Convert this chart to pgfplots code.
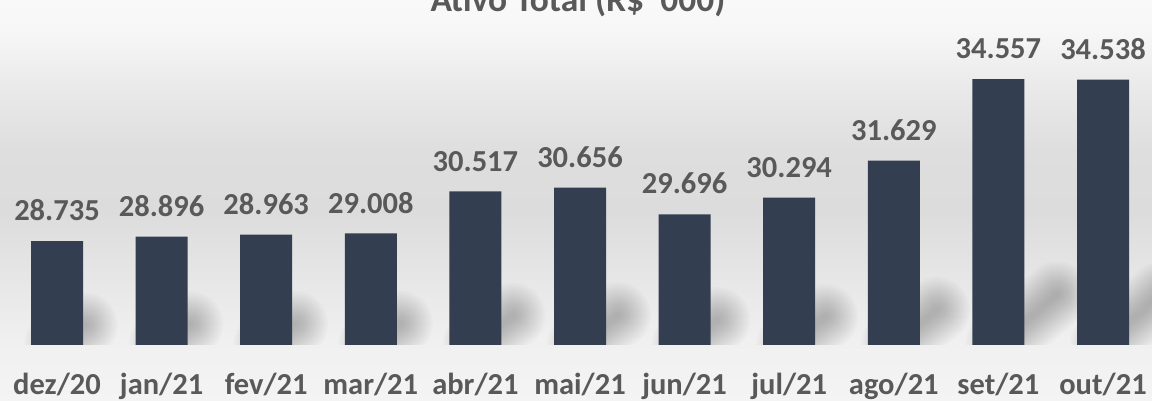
\documentclass[border=0pt]{standalone}
\usepackage{fontspec}
\setmainfont{Carlito}
\usepackage{pgfplots}
\pgfplotsset{compat=1.18}
\definecolor{barc}{HTML}{333F50}
\definecolor{txt}{HTML}{595959}
\definecolor{bgA}{HTML}{F4F4F4}
\definecolor{bgB}{HTML}{F0F0F0}
\definecolor{bgC}{HTML}{DCDCDC}
\definecolor{bgD}{HTML}{DEDEDE}
\definecolor{bgE}{HTML}{E9E9E9}
\definecolor{bgF}{HTML}{F7F7F7}
\definecolor{bgG}{HTML}{F9F9F9}
\pgfdeclareverticalshading{bgshade}{100bp}{color(0bp)=(bgA); color(25bp)=(bgA); color(32.48bp)=(bgB); color(48.69bp)=(bgC); color(56.17bp)=(bgD); color(63.65bp)=(bgE); color(71.26bp)=(bgF); color(75bp)=(bgG); color(100bp)=(bgG)}
\begin{document}
\begin{tikzpicture}
\useasboundingbox (0,0) rectangle (1152pt,401pt);
\fill[shading=bgshade] (0,0) rectangle (1152pt,401pt);
% soft floor shadows behind the bars (decoration)
\begin{scope}
\clip (0,56pt) rectangle (1152pt,401pt);
\foreach \i/\v in {0/28.735,1/28.896,2/28.963,3/29.008,4/30.517,5/30.656,6/29.696,7/30.294,8/31.629,9/34.557,10/34.538}{
  \pgfmathsetmacro{\h}{(\v-25)*27.828}
  \pgfmathsetmacro{\xc}{57+104.6*\i}
  \pgfmathsetmacro{\xe}{\xc+0.19*\h+8}
  \pgfmathsetmacro{\ye}{56+0.19*\h}
  \foreach \w in {66,62,...,6}{
    \draw[black, opacity=0.016, line width=\w pt, line cap=round]
      (\xc pt,56pt) -- (\xe pt,\ye pt);
  }
}
\end{scope}
\begin{axis}[
  at={(4.7pt,56pt)}, anchor=south west,
  scale only axis, width=1150.6pt, height=306.1pt,
  xmin=-0.5, xmax=10.5, ymin=25000, ymax=36000,
  ybar, bar width=52pt,
  axis line style={draw=none}, ytick=\empty,
  xtick=data, major tick length=0pt,
  xticklabels={dez/20,jan/21,fev/21,mar/21,abr/21,mai/21,jun/21,jul/21,ago/21,set/21,out/21},
  xticklabel style={font=\fontsize{30.5}{36}\selectfont\bfseries, text=txt, inner sep=0pt, yshift=-28pt},
  nodes near coords, point meta=explicit symbolic,
  every node near coord/.append style={font=\fontsize{30.5}{36}\selectfont\bfseries, text=txt, inner sep=0pt, yshift=20pt},
  clip=false,
]
\addplot[fill=barc, draw=none] table[meta=label] {
x y label
0 28735 28.735
1 28896 28.896
2 28963 28.963
3 29008 29.008
4 30517 30.517
5 30656 30.656
6 29696 29.696
7 30294 30.294
8 31629 31.629
9 34557 34.557
10 34538 34.538
};
\end{axis}
\node[anchor=base, inner sep=0pt, text=txt, font=\fontsize{35.5}{40}\selectfont\bfseries] at (578pt,389pt) {Ativo Total (R\$ \textquotesingle 000)};
\end{tikzpicture}
\end{document}
